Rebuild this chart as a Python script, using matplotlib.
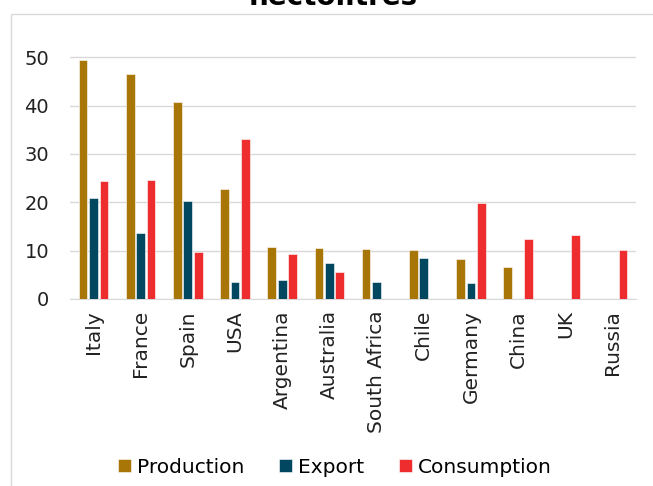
import numpy as np
import matplotlib
matplotlib.use("Agg")
import matplotlib.pyplot as plt
from matplotlib.patches import Rectangle

countries = ["Italy", "France", "Spain", "USA", "Argentina", "Australia",
             "South Africa", "Chile", "Germany", "China", "UK", "Russia"]
production = [49.4, 46.6, 40.7, 22.7, 10.7, 10.5, 10.3, 10.2, 8.3, 6.5, 0, 0]
export = [20.8, 13.6, 20.2, 3.5, 3.9, 7.4, 3.5, 8.4, 3.2, 0, 0, 0]
consumption = [24.4, 24.6, 9.6, 33.0, 9.3, 5.6, 0, 0, 19.8, 12.3, 13.2, 10.2]

plt.rcParams["font.family"] = ["DejaVu Sans"]

fig = plt.figure(figsize=(6.53, 4.86), dpi=100)
ax = fig.add_axes([0.107, 0.385, 0.867, 0.547])

# outer frame of the chart box
fig.patches.append(Rectangle((11 / 653, -0.05), 1.0, 1 - 14 / 486 + 0.05,
                             transform=fig.transFigure, fill=False,
                             edgecolor="#d9d9d9", linewidth=1))

x = np.arange(len(countries))
w = 0.185
off = 0.222
ax.bar(x - off, production, w, color="#A87606", edgecolor="white", linewidth=0.4, label="Production", zorder=3)
ax.bar(x, export, w, color="#00475F", edgecolor="white", linewidth=0.4, label="Export", zorder=3)
ax.bar(x + off, consumption, w, color="#EE2E2E", edgecolor="white", linewidth=0.4, label="Consumption", zorder=3)

ax.set_xlim(-0.5, len(countries) - 0.5)
ax.set_ylim(0, 55)
ax.set_yticks([0, 10, 20, 30, 40, 50])
ax.set_xticks(x)
ax.set_xticklabels(countries, rotation=90, fontsize=14.5, color="#222222")
ax.tick_params(axis="y", length=0, pad=15, labelsize=14, labelcolor="#222222")
ax.tick_params(axis="x", length=0, pad=8)
ax.yaxis.grid(True, color="#d9d9d9", linewidth=1, zorder=0)
for s in ["top", "right", "left"]:
    ax.spines[s].set_visible(False)
ax.spines["bottom"].set_color("#d9d9d9")

fig.text(0.51, 1 - 5 / 486, "hectolitres", ha="center", va="baseline",
         fontsize=20, fontweight="bold")

fig.legend(loc="center", bbox_to_anchor=(0.513, 1 - 467 / 486), ncol=3,
           frameon=False, fontsize=14.5, handlelength=0.65, handleheight=0.65,
           handletextpad=0.3, columnspacing=1.7)

fig.savefig("out.png", dpi=100)
